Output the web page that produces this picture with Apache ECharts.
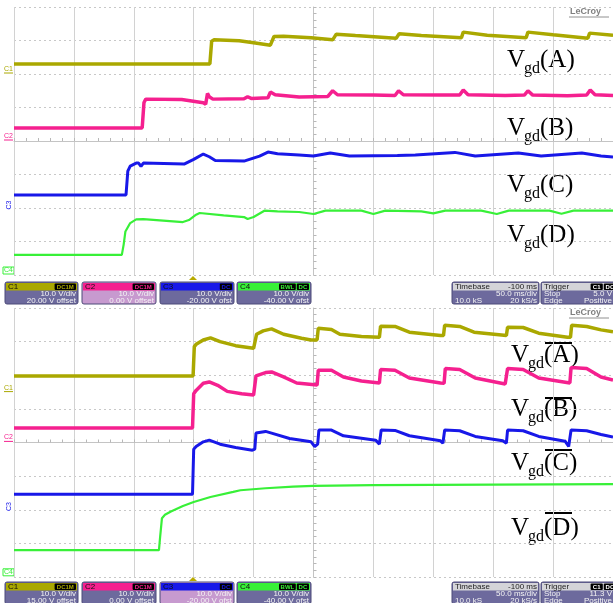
<!DOCTYPE html>
<html><head><meta charset="utf-8">
<script src="https://cdn.jsdelivr.net/npm/echarts@6/dist/echarts.min.js"></script>
<style>html,body{margin:0;padding:0;background:#fff}#c{width:613px;height:603px}</style>
</head><body><div id="c"></div>
<script>
// ---------- DATA (time in ms relative to screen centre, value in divisions) ----------
const c1Top = [[-250,2.30],[-86.5,2.30],[-85,2.98],[-83,3.02],[-62,2.99],[-50,2.93],[-36,2.86],[-34.5,2.83],[-33,3.12],[-25,3.13],[-2,3.08],[16,3.02],[17.5,2.98],[19,3.19],[35,3.15],[69,3.07],[70,3.05],[71.5,3.20],[90,3.15],[123.5,3.08],[125,3.25],[145,3.16],[177.5,3.08],[179,3.25],[200,3.17],[229,3.07],[230.5,3.22],[250,3.16]];
const c2Top = [[-250,0.39],[-143,0.39],[-141.5,1.15],[-140,1.25],[-110,1.24],[-92,1.14],[-90,1.10],[-88.5,1.42],[-87,1.32],[-84,1.25],[-58,1.26],[-55,1.32],[-52,1.27],[-38,1.29],[-36,1.46],[-32,1.38],[-12,1.31],[12,1.33],[16,1.50],[20,1.38],[50,1.37],[68,1.36],[71,1.50],[75,1.38],[105,1.37],[122,1.37],[125,1.52],[129,1.38],[160,1.36],[176,1.37],[179,1.50],[183,1.37],[212,1.35],[228,1.37],[231,1.52],[235,1.38],[250,1.36]];
const c3Top = [[-250,-1.61],[-156.5,-1.61],[-155,-0.9],[-153,-0.75],[-148,-0.66],[-146,-0.66],[-144,-0.76],[-142,-0.66],[-108,-0.69],[-100,-0.55],[-92,-0.39],[-87,-0.47],[-82,-0.58],[-58,-0.60],[-45,-0.45],[-38,-0.33],[-30,-0.38],[-12,-0.42],[0,-0.45],[14,-0.36],[30,-0.45],[70,-0.43],[85,-0.42],[118,-0.34],[135,-0.45],[171,-0.36],[190,-0.45],[224,-0.36],[240,-0.45],[250,-0.48]];
const c4Top = [[-250,-3.40],[-160,-3.40],[-158.5,-3.1],[-157,-2.7],[-153,-2.45],[-148,-2.34],[-142,-2.33],[-109,-2.42],[-104,-2.36],[-98,-2.2],[-95,-2.15],[-75,-2.22],[-58,-2.27],[-55,-2.33],[-50,-2.27],[-41,-2.08],[-30,-2.1],[-12,-2.12],[0,-2.18],[10,-2.08],[40,-2.08],[50,-2.18],[60,-2.08],[90,-2.1],[100,-2.16],[110,-2.08],[140,-2.08],[153,-2.18],[163,-2.08],[197,-2.08],[207,-2.17],[217,-2.08],[250,-2.08]];

const c1Bot = [[-250,1.98],[-100.5,1.98],[-99.5,2.85],[-98,2.92],[-92,3.05],[-86,3.11],[-78,3.00],[-65,2.88],[-50,2.80],[-48.5,2.80],[-47.5,3.22],[-42,3.32],[-35,3.38],[-25,3.22],[-10,3.10],[-2,3.05],[3,3.05],[4,3.40],[15,3.36],[22,3.22],[40,3.15],[55,3.13],[56,3.46],[68,3.45],[80,3.28],[106,3.18],[108.5,3.18],[109.5,3.49],[122,3.45],[134,3.28],[159,3.19],[161,3.18],[162,3.43],[175,3.42],[188,3.25],[212,3.13],[214.5,3.13],[215.5,3.49],[228,3.45],[240,3.35],[250,3.29]];
const c2Bot = [[-250,0.43],[-101,0.43],[-100,1.45],[-98,1.55],[-92,1.76],[-87,1.80],[-80,1.70],[-72,1.52],[-60,1.45],[-50,1.41],[-49,1.41],[-48,1.98],[-40,2.08],[-35,2.10],[-25,1.95],[-14,1.77],[3,1.71],[4,2.15],[15,2.15],[25,1.95],[40,1.83],[55,1.77],[56,2.17],[68,2.15],[80,1.92],[106,1.77],[109,1.76],[110,2.20],[122,2.17],[135,1.92],[160,1.74],[161,1.74],[162,2.20],[175,2.17],[188,1.92],[214,1.77],[215,2.23],[228,2.20],[240,1.95],[250,1.86]];
const c3Bot = [[-250,-1.54],[-101,-1.54],[-100,-0.2],[-98,-0.12],[-92,0.02],[-87,0.07],[-78,-0.05],[-65,-0.15],[-51,-0.23],[-49,-0.2],[-48,0.28],[-40,0.33],[-35,0.28],[-20,0.12],[-2,0.02],[1,-0.12],[3.5,-0.05],[4.5,0.37],[15,0.37],[25,0.20],[52,0.07],[55,-0.05],[56.5,0.37],[68,0.36],[80,0.20],[106,0.05],[108,-0.02],[109.5,0.37],[122,0.35],[135,0.18],[158,0.05],[161,-0.02],[162,0.37],[175,0.35],[188,0.18],[210,0.04],[213,-0.12],[215,0.37],[228,0.35],[240,0.24],[250,0.16]];
const c4Bot = [[-250,-3.20],[-129,-3.20],[-128,-2.8],[-126.5,-2.25],[-124,-2.15],[-119,-2.05],[-109,-1.89],[-100,-1.77],[-86,-1.62],[-67,-1.47],[-61,-1.42],[-40,-1.36],[-17,-1.31],[0,-1.29],[50,-1.27],[150,-1.25],[250,-1.24]];

const channelNames = ['C1','C2','C3','C4'];
const channelColors = ['#aaa800','#f5208f','#1818e8','#38f038'];
const topLetters = ['A','B','C','D'];
const vPerDiv = '10.0 V/div';
const topOffsets = ['20.00 V offset','0.00 V offset','-20.00 V ofst','-40.00 V ofst'];
const botOffsets = ['15.00 V offset','0.00 V offset','-20.00 V ofst','-40.00 V ofst'];
const couplingTags = [['DC1M'],['DC1M'],['DC'],['BWL','DC']];
const timebaseTexts = ['Timebase','-100 ms','50.0 ms/div','10.0 kS','20 kS/s'];
const triggerTexts = ['Trigger','Stop','Edge','Positive'];
const topTrigLevel = '5.0 V';
const botTrigLevel = '11.3 V';

// ---------- CHART ----------
const chart = echarts.init(document.getElementById('c'), null, {renderer:'canvas'});
const grids = [
  {left:14, top:7, width:599, height:268},
  {left:14, top:308, width:599, height:269}
];
function xAx(i){return {gridIndex:i,type:'value',min:-250,max:250,interval:50,
  axisLabel:{show:false},
  axisLine:{show:true,onZero:true,lineStyle:{color:'#c4c4c4',width:1}},
  axisTick:{show:true,length:3,inside:true,lineStyle:{color:'#b8b8b8'}},
  minorTick:{show:true,splitNumber:5,length:3,lineStyle:{color:'#b8b8b8'}},
  splitLine:{show:true,lineStyle:{color:'#d2d2d2',width:1}}};}
function yAx(i){return {gridIndex:i,type:'value',min:-4,max:4,interval:1,
  axisLabel:{show:false},
  axisLine:{show:true,onZero:true,lineStyle:{color:'#c4c4c4',width:1}},
  axisTick:{show:true,length:3,inside:true,lineStyle:{color:'#b8b8b8'}},
  minorTick:{show:true,splitNumber:5,length:3,lineStyle:{color:'#b8b8b8'}},
  splitLine:{show:true,lineStyle:{color:'#c8c8c8',width:1,type:[2,3]}}};}

const topSets=[c1Top,c2Top,c3Top,c4Top], botSets=[c1Bot,c2Bot,c3Bot,c4Bot];
const widths=[3.5,3.5,3,2.2];
const series=[];
[topSets,botSets].forEach((sets,g)=>{
  sets.forEach((d,k)=>{
    series.push({type:'line',xAxisIndex:g,yAxisIndex:g,data:d,showSymbol:false,
      lineStyle:{color:channelColors[k],width:widths[k]},itemStyle:{color:channelColors[k]},
      silent:true,z:3});
  });
});

// ---------- GRAPHICS (labels, info boxes) ----------
const G=[];
const serif='"Liberation Serif","Times New Roman",serif';
const sans='"Liberation Sans",Arial,sans-serif';
function label(xV, base, letter, overY){
  G.push({type:'text',style:{text:'V',x:xV,y:base+5.4,font:'25px '+serif,fill:'#000',verticalAlign:'bottom'}});
  G.push({type:'text',style:{text:'gd',x:xV+17,y:base+8.5,font:'16px '+serif,fill:'#000',verticalAlign:'bottom'}});
  G.push({type:'text',style:{text:'('+letter+')',x:xV+33,y:base+5.4,font:'25px '+serif,fill:'#000',verticalAlign:'bottom'}});
  if(overY!=null) G.push({type:'line',shape:{x1:xV+34,y1:overY,x2:xV+61,y2:overY},style:{stroke:'#000',lineWidth:2}});
}
[68,136,193,243].forEach((b,i)=>label(507,b,topLetters[i],null));
[[363,343],[417,398],[471,450],[536,513]].forEach((p,i)=>label(511,p[0],topLetters[i],p[1]));

function chanMarks(levels){
  levels.forEach((y,i)=>{
    const col=channelColors[i];
    if(i===2){
      G.push({type:'text',x:9,y:y-3,rotation:Math.PI/2,style:{text:'C3',x:0,y:0,font:'7px '+sans,fill:col,align:'center',verticalAlign:'middle'}});
    } else if(i===3){
      G.push({type:'rect',shape:{x:3,y:y-8,width:11,height:7},style:{fill:'none',stroke:col,lineWidth:1}});
      G.push({type:'text',style:{text:'C4',x:4,y:y-4.5,font:'7px '+sans,fill:col,verticalAlign:'middle'}});
    } else {
      G.push({type:'text',style:{text:channelNames[i],x:4,y:y-5,font:'7px '+sans,fill:col,verticalAlign:'middle'}});
      G.push({type:'line',shape:{x1:4,y1:y-1,x2:13,y2:y-1},style:{stroke:col,lineWidth:1}});
    }
  });
}
chanMarks([74,141,208,275]);
chanMarks([392.6,442.4,509.6,576.8]);

function logo(y){
  G.push({type:'text',style:{text:'LeCroy',x:570,y:y,font:'bold 9px '+sans,fill:'#808080',verticalAlign:'middle'}});
  G.push({type:'line',shape:{x1:569,y1:y+5,x2:609,y2:y+5},style:{stroke:'#909090',lineWidth:1}});
}
logo(12); logo(313);

function trigMark(y){
  G.push({type:'polygon',shape:{points:[[193,y],[189,y+4],[197,y+4]]},style:{fill:'#b8aa00'}});
}
trigMark(276); trigMark(577);

const bodyCol='#6d6a9d', selCol='#c79acf', edge='#4d4a78';
function tag(xr, y, text, col){
  const w = text.length*4.6+3;
  G.push({type:'rect',shape:{x:xr-w,y:y,width:w,height:6.5,r:1},style:{fill:'#000'}});
  G.push({type:'text',style:{text:text,x:xr-w/2,y:y+3.4,font:'bold 6px '+sans,fill:col,align:'center',verticalAlign:'middle'}});
  return xr-w-1;
}
function infoRow(y0, offsets, sel, trig){
  const xs=[5,82,160,237], ws=[73,74,74,74];
  xs.forEach((x,i)=>{
    const w=ws[i];
    G.push({type:'rect',shape:{x:x,y:y0,width:w,height:22,r:2},style:{fill:i===sel?selCol:bodyCol,stroke:edge,lineWidth:1}});
    G.push({type:'rect',shape:{x:x+1,y:y0+1,width:w-2,height:7.5},style:{fill:channelColors[i]}});
    G.push({type:'text',style:{text:channelNames[i],x:x+3,y:y0+5,font:'8px '+sans,fill:'#111',verticalAlign:'middle'}});
    let xr=x+w-2;
    couplingTags[i].slice().reverse().forEach(t=>{xr=tag(xr,y0+1.5,t,channelColors[i]);});
    G.push({type:'text',style:{text:vPerDiv,x:x+w-2,y:y0+12,font:'8px '+sans,fill:'#f4f4f4',align:'right',verticalAlign:'middle'}});
    G.push({type:'text',style:{text:offsets[i],x:x+w-2,y:y0+18.5,font:'8px '+sans,fill:'#f4f4f4',align:'right',verticalAlign:'middle'}});
  });
  // timebase
  G.push({type:'rect',shape:{x:452,y:y0,width:87,height:22,r:2},style:{fill:bodyCol,stroke:edge,lineWidth:1}});
  G.push({type:'rect',shape:{x:453,y:y0+1,width:85,height:7.5},style:{fill:'#d4d4d8'}});
  G.push({type:'text',style:{text:timebaseTexts[0],x:455,y:y0+5,font:'8px '+sans,fill:'#222',verticalAlign:'middle'}});
  G.push({type:'text',style:{text:timebaseTexts[1],x:537,y:y0+5,font:'8px '+sans,fill:'#222',align:'right',verticalAlign:'middle'}});
  G.push({type:'text',style:{text:timebaseTexts[2],x:537,y:y0+12,font:'8px '+sans,fill:'#f4f4f4',align:'right',verticalAlign:'middle'}});
  G.push({type:'text',style:{text:timebaseTexts[3],x:455,y:y0+18.5,font:'8px '+sans,fill:'#f4f4f4',verticalAlign:'middle'}});
  G.push({type:'text',style:{text:timebaseTexts[4],x:537,y:y0+18.5,font:'8px '+sans,fill:'#f4f4f4',align:'right',verticalAlign:'middle'}});
  // trigger
  G.push({type:'rect',shape:{x:541,y:y0,width:76,height:22,r:2},style:{fill:bodyCol,stroke:edge,lineWidth:1}});
  G.push({type:'rect',shape:{x:542,y:y0+1,width:74,height:7.5},style:{fill:'#d4d4d8'}});
  G.push({type:'text',style:{text:triggerTexts[0],x:544,y:y0+5,font:'8px '+sans,fill:'#222',verticalAlign:'middle'}});
  let xr=tag(616,y0+1.5,'DC','#fff'); tag(xr,y0+1.5,'C1','#fff');
  G.push({type:'text',style:{text:triggerTexts[1],x:544,y:y0+12,font:'8px '+sans,fill:'#f4f4f4',verticalAlign:'middle'}});
  G.push({type:'text',style:{text:trig,x:612,y:y0+12,font:'8px '+sans,fill:'#f4f4f4',align:'right',verticalAlign:'middle'}});
  G.push({type:'text',style:{text:triggerTexts[2],x:544,y:y0+18.5,font:'8px '+sans,fill:'#f4f4f4',verticalAlign:'middle'}});
  G.push({type:'text',style:{text:triggerTexts[3],x:612,y:y0+18.5,font:'8px '+sans,fill:'#f4f4f4',align:'right',verticalAlign:'middle'}});
}
infoRow(282, topOffsets, 1, topTrigLevel);
infoRow(582, botOffsets, 2, botTrigLevel);

chart.setOption({
  animation:false,
  backgroundColor:'#ffffff',
  grid:grids,
  xAxis:[xAx(0),xAx(1)],
  yAxis:[yAx(0),yAx(1)],
  series:series,
  graphic:G
});
</script></body></html>
